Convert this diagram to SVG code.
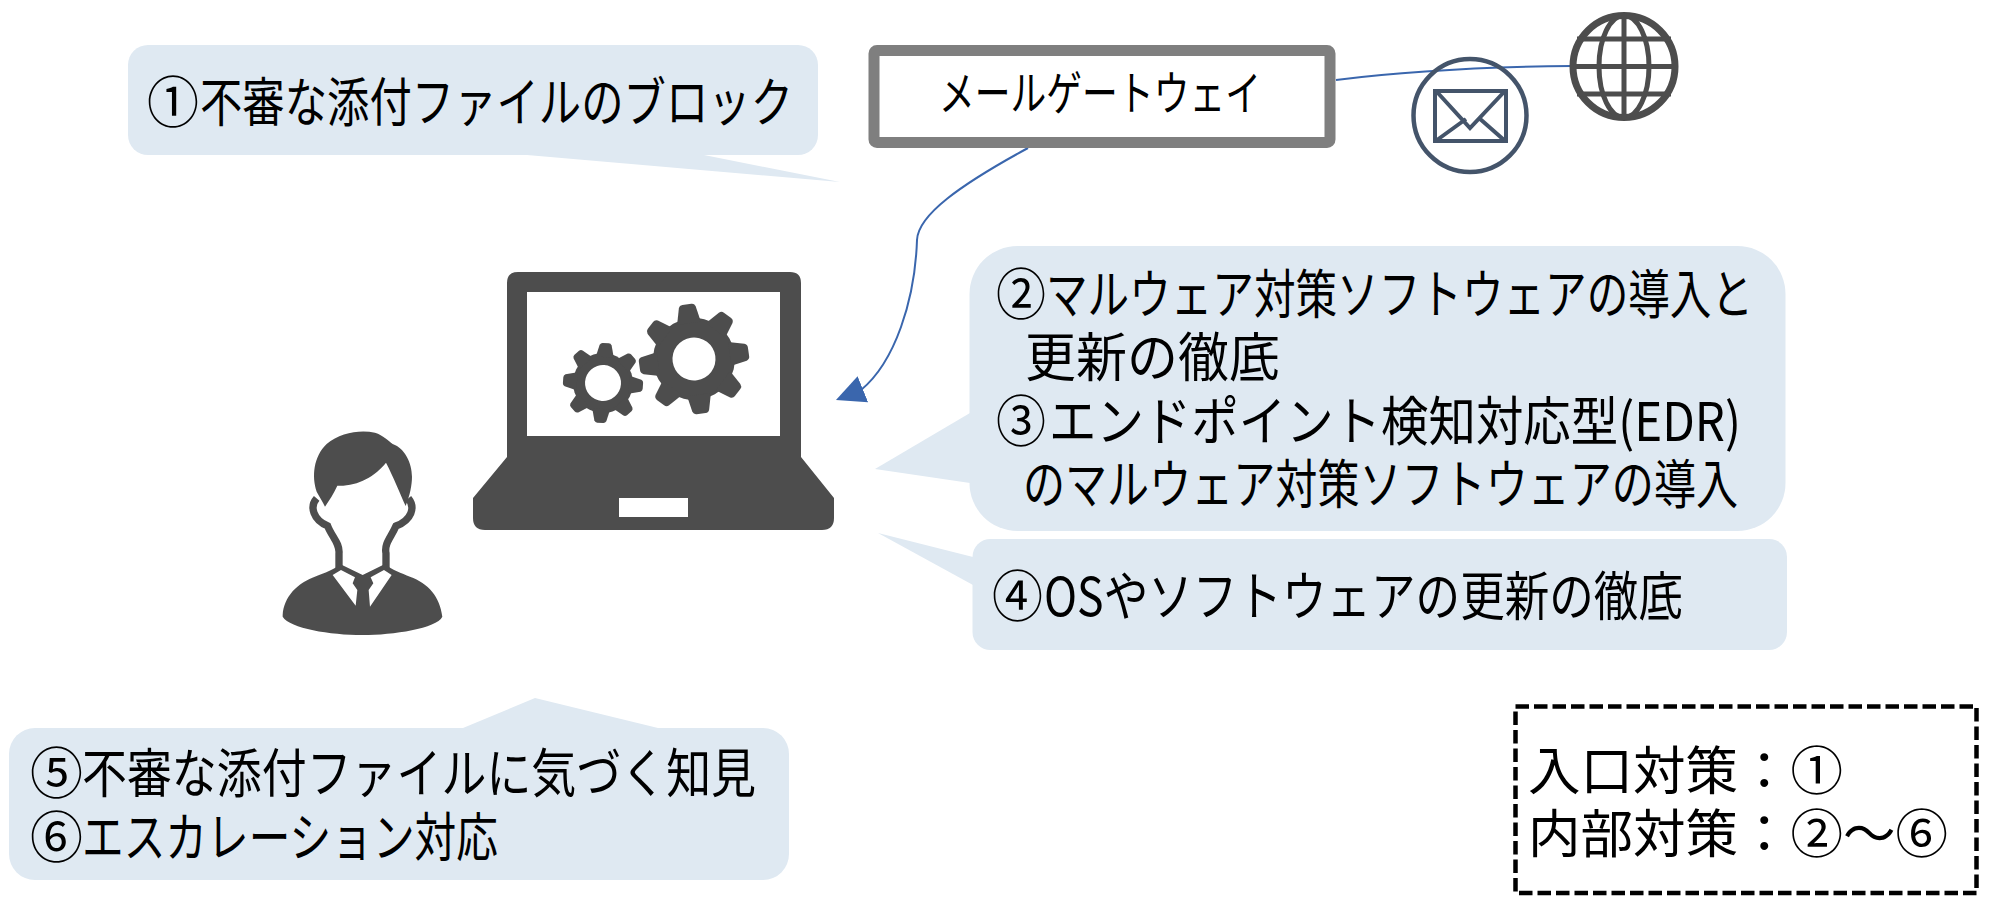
<svg xmlns="http://www.w3.org/2000/svg" xmlns:xlink="http://www.w3.org/1999/xlink" width="2009" height="903" viewBox="0 0 2009 903">
<style>
.bub{fill:#dfe9f2}
.t{font-family:"Noto Sans CJK JP","Noto Sans",sans-serif;fill:#000}
.f{font-size:53px}
.n{font-size:55px}
.dk{fill:#4d4d4d}
.conn{fill:none;stroke:#3a66ad;stroke-width:2}
</style>
<defs>
<marker id="arrow" markerUnits="userSpaceOnUse" markerWidth="34" markerHeight="34" refX="2" refY="17" orient="158" viewBox="0 0 34 34">
<path d="M0 3 L29 17 L0 31Z" fill="#3a66ad"/>
</marker>
<path id="tb" d="M-12 -36 L-8 -52 Q-7 -55 -4 -55 L5 -55 Q8 -55 9 -52 L12 -36Z"/>
<path id="ts" d="M-9 -26 L-6 -38 Q-5 -40 -3 -40 L3 -40 Q5 -40 6 -38 L9 -26Z"/>
</defs>
<rect width="2009" height="903" fill="#fff"/>
<g id="connectors">
<path class="conn" d="M1336 80 C1400 72 1470 67 1572 66"/>
<path class="conn" d="M1028 148 C960 185 918 215 917 240 C915 300 895 362 861 390" marker-end="url(#arrow)"/>
</g>
<g id="callout1">
<path class="bub" d="M527 155 L704 155 L840 182Z"/>
<rect class="bub" x="128" y="45" width="690" height="110" rx="20"/>
<text class="t f" y="122"><tspan class="n" x="147" textLength="52" lengthAdjust="spacingAndGlyphs">①</tspan><tspan x="200" textLength="593" lengthAdjust="spacingAndGlyphs">不審な添付ファイルのブロック</tspan></text>
</g>
<g id="gateway">
<rect x="874" y="50.500" width="456" height="92" rx="3" fill="#fff" stroke="#7f7f7f" stroke-width="11" stroke-linejoin="round"/>
<text class="t" font-size="47" x="939" y="110" textLength="322" lengthAdjust="spacingAndGlyphs">メールゲートウェイ</text>
</g>
<g id="mail">
<circle cx="1470" cy="115.500" r="56.500" fill="none" stroke="#44546a" stroke-width="4.500"/>
<rect x="1435" y="91" width="71" height="50" fill="none" stroke="#44546a" stroke-width="4"/>
<path d="M1437 92 L1470 128 L1504 92 M1437 140 L1466 119 M1504 140 L1479 118" fill="none" stroke="#44546a" stroke-width="4"/>
</g>
<g id="globe" fill="none" stroke="#4d4d4d">
<circle cx="1624" cy="66.500" r="51" stroke-width="7"/>
<ellipse cx="1624" cy="66.500" rx="25" ry="51" stroke-width="5"/>
<path d="M1624 15 V118 M1577 39 H1671 M1572 66.500 H1676 M1577 94 H1671" stroke-width="5"/>
</g>
<g id="laptop">
<path class="dk" d="M518 272 H790 Q801 272 801 283 V457 L834 498 V518 Q834 530 822 530 H485 Q473 530 473 518 V498 L507 457 V283 Q507 272 518 272Z"/>
<rect x="527" y="292" width="253" height="144" fill="#fff"/>
<rect x="619" y="498" width="69" height="19" fill="#fff"/>
<g class="dk" transform="translate(694 359) rotate(-8)">
<circle r="41"/>
<use xlink:href="#tb"/><use xlink:href="#tb" transform="rotate(45)"/><use xlink:href="#tb" transform="rotate(90)"/><use xlink:href="#tb" transform="rotate(135)"/><use xlink:href="#tb" transform="rotate(180)"/><use xlink:href="#tb" transform="rotate(225)"/><use xlink:href="#tb" transform="rotate(270)"/><use xlink:href="#tb" transform="rotate(315)"/>
<circle r="21.500" fill="#fff"/>
</g>
<g class="dk" transform="translate(603 383) rotate(4)">
<circle r="30"/>
<use xlink:href="#ts"/><use xlink:href="#ts" transform="rotate(45)"/><use xlink:href="#ts" transform="rotate(90)"/><use xlink:href="#ts" transform="rotate(135)"/><use xlink:href="#ts" transform="rotate(180)"/><use xlink:href="#ts" transform="rotate(225)"/><use xlink:href="#ts" transform="rotate(270)"/><use xlink:href="#ts" transform="rotate(315)"/>
<circle r="18" fill="#fff"/>
</g>
</g>
<g id="person" transform="translate(260 420) scale(0.3333)">
<path class="dk" d="M170 215 C155 170 160 110 200 72 C240 38 300 28 345 38 C370 46 385 62 398 72 C435 85 456 130 456 170 C456 195 450 225 437 258 C420 220 400 170 378 128 C345 170 290 200 232 197 C222 220 208 240 195 260 C188 245 178 230 170 215Z"/>
<path d="M170 235 C148 260 160 300 203 318 C215 350 240 370 237 400 L237 445 M445 235 C467 262 455 300 408 318 C395 350 372 370 378 400 L378 445" fill="none" stroke="#4d4d4d" stroke-width="22"/>
<path class="dk" d="M68 585 C72 530 110 490 170 468 C195 458 225 448 240 432 L308 465 L375 432 C395 450 425 460 450 470 C505 490 540 530 547 590 C530 625 400 645 308 645 C210 645 90 625 68 590Z"/>
<path d="M218 465 L243 450 L285 472 L278 490 L292 510 L287 557Z M395 465 L372 450 L332 472 L340 490 L326 510 L330 560Z" fill="#fff"/>
</g>
<g id="callout2">
<path class="bub" d="M970 413 L875 469 L970 483Z"/>
<rect class="bub" x="969.500" y="246" width="816" height="285" rx="48"/>
<text class="t f" y="314"><tspan class="n" x="996" textLength="50" lengthAdjust="spacingAndGlyphs">②</tspan><tspan x="1046" textLength="707" lengthAdjust="spacingAndGlyphs">マルウェア対策ソフトウェアの導入と</tspan></text>
<text class="t f" x="1025" y="377" textLength="255" lengthAdjust="spacingAndGlyphs">更新の徹底</text>
<text class="t f" y="441"><tspan class="n" x="996" textLength="50" lengthAdjust="spacingAndGlyphs">③</tspan><tspan x="1049" textLength="692" lengthAdjust="spacingAndGlyphs">エンドポイント検知対応型(EDR)</tspan></text>
<text class="t f" x="1023" y="504" textLength="715" lengthAdjust="spacingAndGlyphs">のマルウェア対策ソフトウェアの導入</text>
</g>
<g id="callout4">
<path class="bub" d="M973 557 L878 533 L973 585Z"/>
<rect class="bub" x="972.500" y="539" width="814.500" height="111" rx="18"/>
<text class="t f" y="616"><tspan class="n" x="992" textLength="51" lengthAdjust="spacingAndGlyphs">④</tspan><tspan x="1044" textLength="639" lengthAdjust="spacingAndGlyphs">OSやソフトウェアの更新の徹底</tspan></text>
</g>
<g id="callout5">
<path class="bub" d="M463 728 L535 698 L658 728Z"/>
<rect class="bub" x="9" y="728" width="780" height="152" rx="26"/>
<text class="t f" y="793"><tspan class="n" x="30" textLength="53" lengthAdjust="spacingAndGlyphs">⑤</tspan><tspan x="82" textLength="674" lengthAdjust="spacingAndGlyphs">不審な添付ファイルに気づく知見</tspan></text>
<text class="t f" y="857"><tspan class="n" x="30" textLength="53" lengthAdjust="spacingAndGlyphs">⑥</tspan><tspan x="82" textLength="416" lengthAdjust="spacingAndGlyphs">エスカレーション対応</tspan></text>
</g>
<g id="legend">
<rect x="1515.500" y="706.500" width="461" height="186.500" fill="none" stroke="#000" stroke-width="4.500" stroke-dasharray="13.500 5"/>
<text class="t" font-size="52.500" x="1528" y="790">入口対策：①</text>
<text class="t" font-size="52.500" x="1528" y="853">内部対策：②～⑥</text>
</g>
</svg>
